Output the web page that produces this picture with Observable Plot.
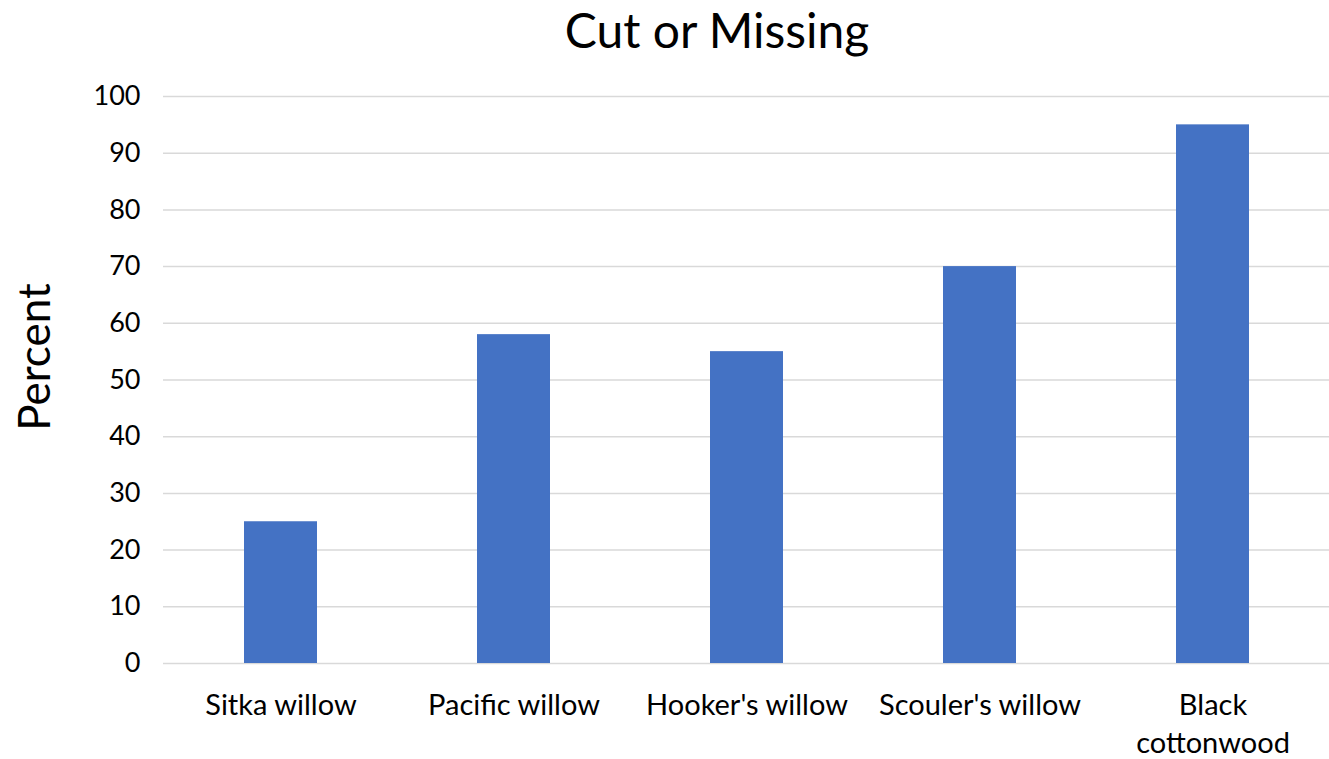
<!DOCTYPE html>
<html>
<head>
<meta charset="utf-8">
<script src="https://cdn.jsdelivr.net/npm/d3@7"></script>
<script src="https://cdn.jsdelivr.net/npm/@observablehq/plot@0.6"></script>
<style>
  html, body { margin: 0; padding: 0; background: #fff; }
  #title { font-family: Lato, "Open Sans", sans-serif; font-size: 48px; height: 60px; line-height: 60px; text-align: center; color: #000; width: 1434px; }
</style>
</head>
<body>
<div id="title">Cut or Missing</div>
<div id="chart"></div>
<script>
const categories = ["Sitka willow", "Pacific willow", "Hooker's willow", "Scouler's willow", "Black cottonwood"];
const values = [25, 58, 55, 70, 95];
const yTicks = [0, 10, 20, 30, 40, 50, 60, 70, 80, 90, 100];

const data = categories.map((c, i) => ({category: c, value: values[i]}));

const chart = Plot.plot({
  width: 1329,
  height: 699,
  marginTop: 36,
  marginBottom: 96,
  marginLeft: 163,
  marginRight: 0,
  style: {fontFamily: "Lato, 'Open Sans', sans-serif", color: "#000", background: "#fff"},
  x: {domain: categories, paddingInner: 0.687, paddingOuter: 0.3435, label: null},
  y: {domain: [0, 100], ticks: yTicks, label: null},
  marks: [
    Plot.gridY(yTicks, {stroke: "#d9d9d9", strokeOpacity: 1, strokeWidth: 1.5}),
    Plot.barY(data, {x: "category", y: "value", fill: "#4472C4"}),
    Plot.axisY(yTicks, {tickSize: 0, tickPadding: 23, fontSize: 27, fill: "#000", label: null}),
    Plot.axisX({tickSize: 0, tickPadding: 25, fontSize: 29, fill: "#000", lineHeight: 1.31, label: null,
      tickFormat: d => d === "Black cottonwood" ? "Black\ncottonwood" : d}),
    Plot.text(["Percent"], {frameAnchor: "left", textAnchor: "middle", dx: -128, dy: -23, rotate: -90, fontSize: 44, fill: "#000"})
  ]
});
document.getElementById("chart").appendChild(chart);
</script>
</body>
</html>
